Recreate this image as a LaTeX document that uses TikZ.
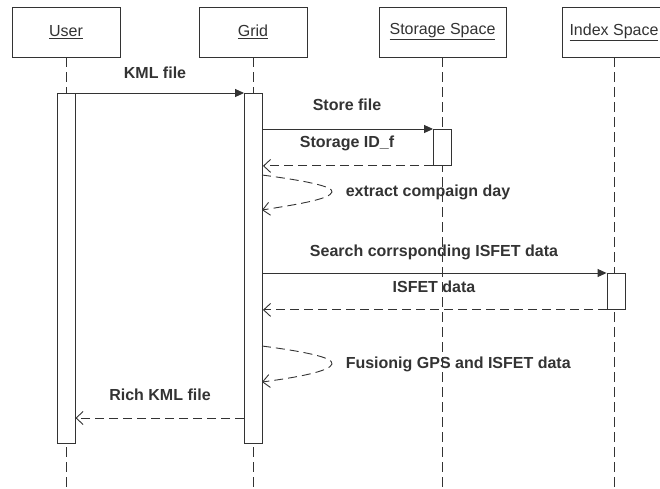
\documentclass[tikz,border=0pt]{standalone}
\usepackage{fontspec}
\setmainfont{Liberation Sans}
\usetikzlibrary{arrows.meta}
\definecolor{ink}{HTML}{333333}
\tikzset{
	actor/.style={draw, fill=white, minimum height=50pt, inner sep=0pt},
	bar/.style={draw, fill=white, minimum width=18pt, inner sep=0pt, anchor=north},
	life/.style={dash pattern=on 10pt off 5pt},
	msg/.style={-{Triangle[length=9pt,width=8pt]}},
	ret/.style={dash pattern=on 9pt off 5pt, -{Straight Barb[length=7pt,width=13pt]}},
	lbl/.style={font=\fontsize{16}{19}\selectfont\bfseries}
}
\begin{document}
\begin{tikzpicture}[x=1pt,y=-1pt,ink,line width=0.9pt,font=\fontsize{16}{19}\selectfont]
	\useasboundingbox (0,0) rectangle (660,488);
	% objects
	\node[actor, minimum width=108pt] (user) at (66,32) {\underline{User}};
	\node[actor, minimum width=108pt] (grid) at (253,32) {\underline{Grid}};
	\node[actor, minimum width=127pt] (storage) at (442.5,32) {\underline{Storage Space}};
	\node[actor, minimum width=104pt] (index) at (614,32) {\underline{Index Space}};
	% lifelines
	\coordinate (userend) at (66,488);
	\coordinate (gridend) at (253,488);
	\coordinate (storageend) at (442.5,488);
	\coordinate (indexend) at (614,488);
	\draw[life] (user.south) -- (userend);
	\draw[life] (grid.south) -- (gridend);
	\draw[life] (storage.south) -- (storageend);
	\draw[life] (index.south) -- (indexend);
	% activations
	\node[bar, minimum height=350pt] (userbar) at (66,93) {};
	\node[bar, minimum height=350pt] (gridbar) at (253.5,93) {};
	\node[bar, minimum height=36pt] (storagebar) at (442.5,129) {};
	\node[bar, minimum height=36pt] (indexbar) at (616,273) {};
	% messages
	\draw[msg] (userbar.north east) -- (gridbar.north west);
	\node[lbl] (kml) at (155,73) {KML file};
	\draw[msg] (gridbar.east |- storagebar.north) -- (storagebar.north west);
	\node[lbl] (store) at (347,105) {Store file};
	\draw[ret] (storagebar.south west) -- (gridbar.east |- storagebar.south);
	\node[lbl] (storeid) at (347,143) {Storage ID\_f};
	\coordinate (ex1) at (262,175);
	\coordinate (ex2) at (262,210);
	\draw[ret] (ex1) .. controls (300,180) and (334,186) .. (332,192) .. controls (330,199) and (300,204) .. (ex2);
	\node[lbl, anchor=west] (extract) at (342,192) {extract compaign day};
	\draw[msg] (gridbar.east |- indexbar.north) -- (indexbar.north west);
	\node[lbl] (search) at (434,252) {Search corrsponding ISFET data};
	\draw[ret] (indexbar.south west) -- (gridbar.east |- indexbar.south);
	\node[lbl] (isfet) at (434,287) {ISFET data};
	\coordinate (fu1) at (262,346);
	\coordinate (fu2) at (262,382);
	\draw[ret] (fu1) .. controls (300,351) and (334,357) .. (332,364) .. controls (330,371) and (300,377) .. (fu2);
	\node[lbl, anchor=west] (fusion) at (342,364) {Fusionig GPS and ISFET data};
	\coordinate (rich) at (0,418);
	\draw[ret] (gridbar.west |- rich) -- (userbar.east |- rich);
	\node[lbl] (richlbl) at (160,395) {Rich KML file};
\end{tikzpicture}
\end{document}
